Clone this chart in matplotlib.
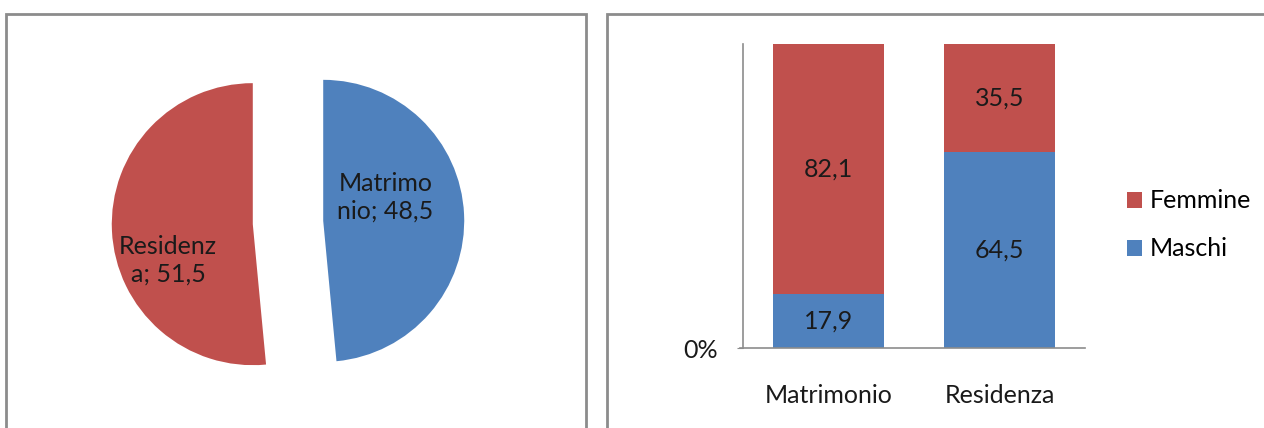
import numpy as np
import matplotlib
matplotlib.use('Agg')
import matplotlib.pyplot as plt
from matplotlib.patches import Rectangle

# ── data ──────────────────────────────────────────────────────────────────────
pie_labels = ['Matrimonio', 'Residenza']
pie_values = [48.5, 51.5]
pie_text = ['Matrimo\nnio; 48,5', 'Residenz\na; 51,5']

categories = ['Matrimonio', 'Residenza']
maschi = [17.9, 64.5]
femmine = [82.1, 35.5]

RED = '#C0504D'
BLUE = '#4F81BD'
GRAY = '#8C8C8C'
TXT = '#1a1a1a'

plt.rcParams['font.family'] = ['Lato', 'DejaVu Sans']
FS = 18

W, H = 1264, 428
fig = plt.figure(figsize=(W / 100, H / 100), dpi=100)

def px_box(x0, y0, x1, y1):
    # pixel box (top-left origin) -> figure fraction rect
    return [x0 / W, 1 - y1 / H, (x1 - x0) / W, (y1 - y0) / H]

# panel frames
for x0, x1 in [(6, 586), (607, 1290)]:
    fig.patches.append(Rectangle((x0 / W, -0.05), (x1 - x0) / W, 1.05 - 14 / H,
                                 transform=fig.transFigure, fill=False,
                                 edgecolor=GRAY, lw=2))

# ── pie ───────────────────────────────────────────────────────────────────────
R = 141  # pie radius in px
cx, cy = 288, 222.5
half = 220
ax1 = fig.add_axes(px_box(cx - half, cy - half, cx + half, cy + half))
ax1.pie(pie_values, colors=[BLUE, RED], startangle=90,
        counterclock=False, explode=[0.25, 0.25], radius=1, frame=True)
ax1.set_xlim(-half / R, half / R)
ax1.set_ylim(-half / R, half / R)
ax1.axis('off')
label_pos = [(0.69, 0.18), (-0.85, -0.27)]
for txt, (x, y) in zip(pie_text, label_pos):
    ax1.text(x, y, txt, ha='center', va='center', fontsize=FS,
             color=TXT, linespacing=1.25)

# ── stacked bars ──────────────────────────────────────────────────────────────
ax2 = fig.add_axes(px_box(743, 44, 1085, 348))
x = np.arange(len(categories))
ax2.bar(x, maschi, width=0.65, color=BLUE, label='Maschi')
ax2.bar(x, femmine, width=0.65, bottom=maschi, color=RED, label='Femmine')
for i in range(len(categories)):
    ax2.text(x[i], maschi[i] / 2, f'{maschi[i]:.1f}'.replace('.', ','),
             ha='center', va='center', fontsize=FS, color=TXT)
    ax2.text(x[i], maschi[i] + femmine[i] / 2, f'{femmine[i]:.1f}'.replace('.', ','),
             ha='center', va='center', fontsize=FS, color=TXT)
ax2.set_xlim(-0.5, 1.5)
ax2.set_ylim(0, 100)
ax2.set_yticks([0])
ax2.set_yticklabels(['0%'], fontsize=FS, color=TXT)
ax2.set_xticks(x)
ax2.set_xticklabels(categories, fontsize=FS, color=TXT)
ax2.tick_params(axis='x', length=0, pad=26)
ax2.tick_params(axis='y', length=4, color=GRAY, pad=14)
for s in ['top', 'right']:
    ax2.spines[s].set_visible(False)
for s in ['left', 'bottom']:
    ax2.spines[s].set_color(GRAY)
    ax2.spines[s].set_linewidth(1.2)
ax2.spines['bottom'].set_bounds(-0.52, 1.5)

h, l = ax2.get_legend_handles_labels()
ax2.legend(h[::-1], l[::-1], loc='center left', bbox_to_anchor=(1127 / W, 1 - 225 / H),
           bbox_transform=fig.transFigure, frameon=False, fontsize=FS,
           borderpad=0, borderaxespad=0,
           handlelength=0.6, handleheight=0.6, handletextpad=0.3,
           labelspacing=1.0)

plt.savefig('out.png', dpi=100)
